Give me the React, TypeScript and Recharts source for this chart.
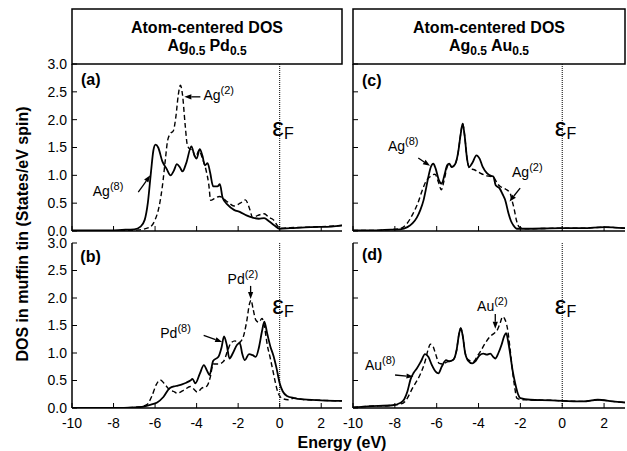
import React from 'react';
import { LineChart, Line, XAxis, YAxis, ReferenceLine, ReferenceDot } from 'recharts';

type Pt = [number, number];

// (a) Ag0.5Pd0.5, Ag site DOS: solid = Ag(8), dashed = Ag(2)
const agPdAg8: Pt[] = [
  [-10, 0.01], [-8.5, 0.01], [-7.6, 0.02], [-7.0, 0.03], [-6.7, 0.08], [-6.5, 0.2], [-6.35, 0.5],
  [-6.2, 1.05], [-6.08, 1.45], [-5.98, 1.55], [-5.85, 1.5], [-5.65, 1.25], [-5.45, 1.12], [-5.25, 1.0],
  [-5.1, 1.08], [-4.95, 1.2], [-4.8, 1.14], [-4.68, 1.07], [-4.5, 1.22], [-4.25, 1.52], [-4.1, 1.35],
  [-4.0, 1.3], [-3.85, 1.47], [-3.72, 1.35], [-3.6, 1.18], [-3.47, 1.22], [-3.35, 1.05], [-3.2, 0.8],
  [-3.0, 0.8], [-2.88, 0.84], [-2.75, 0.6], [-2.5, 0.47], [-2.2, 0.38], [-1.9, 0.34], [-1.6, 0.28],
  [-1.3, 0.24], [-1.0, 0.22], [-0.75, 0.23], [-0.5, 0.17], [-0.25, 0.1], [0, 0.04], [0.5, 0.05],
  [1.5, 0.07], [2.5, 0.08], [3, 0.1],
];
const agPdAg2: Pt[] = [
  [-10, 0], [-8, 0], [-6.8, 0.02], [-6.3, 0.06], [-6.0, 0.2], [-5.8, 0.45], [-5.65, 0.8], [-5.5, 1.3],
  [-5.4, 1.62], [-5.28, 1.74], [-5.12, 1.8], [-5.0, 2.05], [-4.88, 2.45], [-4.78, 2.62], [-4.68, 2.45],
  [-4.55, 1.9], [-4.45, 1.55], [-4.35, 1.48], [-4.2, 1.45], [-4.05, 1.33], [-3.88, 1.45], [-3.72, 1.3],
  [-3.55, 1.1], [-3.42, 0.85], [-3.32, 0.55], [-3.15, 0.58], [-2.9, 0.62], [-2.5, 0.52], [-2.2, 0.45],
  [-1.9, 0.5], [-1.65, 0.56], [-1.45, 0.4], [-1.3, 0.24], [-1.05, 0.28], [-0.75, 0.31], [-0.5, 0.24],
  [-0.3, 0.2], [-0.12, 0.1], [0, 0.05], [0.5, 0.06], [1.5, 0.07], [3, 0.1],
];

// (b) Ag0.5Pd0.5, Pd site DOS
const agPdPd8: Pt[] = [
  [-10, 0], [-8, 0], [-7.0, 0.01], [-6.5, 0.03], [-6.2, 0.06], [-5.9, 0.1], [-5.6, 0.2], [-5.3, 0.36],
  [-5.0, 0.4], [-4.7, 0.43], [-4.5, 0.46], [-4.3, 0.5], [-4.2, 0.53], [-4.06, 0.45], [-3.85, 0.62],
  [-3.65, 0.78], [-3.5, 0.68], [-3.38, 0.6], [-3.2, 0.86], [-2.95, 0.93], [-2.8, 1.1], [-2.68, 1.3],
  [-2.55, 1.15], [-2.42, 0.9], [-2.25, 1.0], [-2.05, 1.15], [-1.92, 1.18], [-1.8, 0.98], [-1.68, 0.87],
  [-1.48, 0.98], [-1.3, 0.96], [-1.15, 0.93], [-1.0, 1.1], [-0.85, 1.4], [-0.74, 1.57], [-0.6, 1.35],
  [-0.45, 1.12], [-0.3, 0.95], [-0.15, 0.72], [0, 0.45], [0.15, 0.3], [0.35, 0.22], [0.7, 0.18],
  [1.0, 0.16], [2, 0.14], [3, 0.13],
];
const agPdPd2: Pt[] = [
  [-10, 0], [-8, 0], [-6.8, 0.02], [-6.4, 0.06], [-6.15, 0.22], [-5.95, 0.42], [-5.75, 0.51],
  [-5.55, 0.44], [-5.35, 0.35], [-5.1, 0.3], [-4.94, 0.27], [-4.6, 0.33], [-4.3, 0.39], [-4.1, 0.33],
  [-3.97, 0.29], [-3.75, 0.36], [-3.5, 0.4], [-3.35, 0.55], [-3.2, 0.8], [-2.95, 0.8], [-2.7, 0.85],
  [-2.5, 1.05], [-2.35, 1.18], [-2.15, 1.22], [-2.0, 1.18], [-1.8, 1.25], [-1.6, 1.55], [-1.45, 1.9],
  [-1.38, 1.96], [-1.28, 1.8], [-1.15, 1.6], [-1.0, 1.56], [-0.85, 1.63], [-0.72, 1.45], [-0.6, 1.15],
  [-0.45, 0.9], [-0.35, 0.72], [-0.2, 0.45], [-0.1, 0.3], [0.1, 0.18], [0.4, 0.15], [0.7, 0.18],
  [1.2, 0.15], [2, 0.14], [3, 0.13],
];

// (c) Ag0.5Au0.5, Ag site DOS
const agAuAg8: Pt[] = [
  [-10, 0.01], [-9, 0.01], [-8.5, 0.02], [-7.75, 0.03], [-7.4, 0.07], [-7.15, 0.14], [-6.95, 0.24],
  [-6.78, 0.38], [-6.63, 0.55], [-6.5, 0.78], [-6.4, 0.97], [-6.28, 1.15], [-6.16, 1.21], [-6.05, 1.12],
  [-5.9, 0.92], [-5.76, 0.85], [-5.62, 1.02], [-5.5, 1.18], [-5.4, 1.21], [-5.28, 1.15], [-5.12, 1.2],
  [-4.98, 1.4], [-4.85, 1.75], [-4.76, 1.93], [-4.66, 1.7], [-4.55, 1.3], [-4.45, 1.15], [-4.3, 1.22],
  [-4.1, 1.36], [-3.95, 1.3], [-3.8, 1.15], [-3.6, 1.04], [-3.4, 0.99], [-3.29, 0.98], [-3.18, 0.82],
  [-3.0, 0.77], [-2.85, 0.66], [-2.73, 0.56], [-2.57, 0.32], [-2.45, 0.18], [-2.33, 0.1], [-2.17, 0.04],
  [-1.8, 0.04], [0, 0.05], [1, 0.05], [2, 0.07], [3, 0.05],
];
const agAuAg2: Pt[] = [
  [-10, 0.01], [-9, 0.01], [-8.5, 0.02], [-7.8, 0.04], [-7.45, 0.12], [-7.15, 0.3], [-6.9, 0.5],
  [-6.7, 0.72], [-6.5, 0.9], [-6.3, 0.98], [-6.08, 1.02], [-5.92, 0.88], [-5.78, 0.74], [-5.65, 0.9],
  [-5.5, 1.15], [-5.4, 1.2], [-5.28, 1.15], [-5.12, 1.2], [-4.98, 1.4], [-4.85, 1.75], [-4.76, 1.93],
  [-4.66, 1.7], [-4.55, 1.3], [-4.42, 1.12], [-4.2, 1.1], [-3.92, 1.04], [-3.6, 0.99], [-3.29, 0.97],
  [-3.1, 0.85], [-2.96, 0.8], [-2.7, 0.75], [-2.49, 0.68], [-2.4, 0.55], [-2.3, 0.4], [-2.18, 0.18],
  [-2.05, 0.07], [-1.8, 0.04], [0, 0.05], [1, 0.05], [2, 0.07], [3, 0.05],
];

// (d) Ag0.5Au0.5, Au site DOS
const agAuAu8: Pt[] = [
  [-10, 0.01], [-9.3, 0.03], [-8.1, 0.05], [-7.75, 0.09], [-7.55, 0.16], [-7.4, 0.3], [-7.25, 0.52],
  [-7.1, 0.64], [-6.95, 0.72], [-6.75, 0.85], [-6.56, 0.98], [-6.4, 0.93], [-6.23, 0.78], [-6.05, 0.66],
  [-5.92, 0.63], [-5.75, 0.76], [-5.55, 0.87], [-5.4, 0.85], [-5.2, 0.88], [-5.05, 1.05], [-4.93, 1.35],
  [-4.85, 1.45], [-4.75, 1.3], [-4.65, 1.02], [-4.5, 0.86], [-4.3, 0.81], [-4.15, 0.85], [-3.95, 0.96],
  [-3.77, 0.99], [-3.6, 0.97], [-3.44, 0.99], [-3.3, 0.93], [-3.2, 0.9], [-3.05, 1.0], [-2.9, 1.15],
  [-2.78, 1.3], [-2.68, 1.36], [-2.58, 1.2], [-2.49, 0.99], [-2.38, 0.7], [-2.25, 0.45], [-2.12, 0.26],
  [-2.0, 0.18], [-1.53, 0.15], [-0.5, 0.14], [0, 0.13], [1.0, 0.12], [1.7, 0.15], [2.4, 0.12], [3, 0.1],
];
const agAuAu2: Pt[] = [
  [-10, 0.01], [-9.3, 0.03], [-8.1, 0.05], [-7.6, 0.09], [-7.4, 0.18], [-7.2, 0.33], [-7.0, 0.46],
  [-6.8, 0.6], [-6.56, 0.84], [-6.42, 1.05], [-6.3, 1.16], [-6.2, 1.14], [-6.05, 0.98], [-5.88, 0.81],
  [-5.7, 0.8], [-5.5, 0.84], [-5.35, 0.85], [-5.2, 0.88], [-5.05, 1.05], [-4.93, 1.35], [-4.85, 1.45],
  [-4.75, 1.3], [-4.65, 1.02], [-4.5, 0.88], [-4.25, 0.84], [-4.05, 0.95], [-3.92, 1.02], [-3.68, 1.18],
  [-3.45, 1.3], [-3.25, 1.36], [-3.1, 1.42], [-2.97, 1.54], [-2.85, 1.66], [-2.75, 1.62], [-2.62, 1.45],
  [-2.5, 1.1], [-2.4, 0.75], [-2.28, 0.4], [-2.17, 0.18], [-1.93, 0.15], [-0.5, 0.14], [0, 0.13],
  [1.0, 0.12], [1.7, 0.15], [2.4, 0.12], [3, 0.1],
];

const xMajor = [-10, -8, -6, -4, -2, 0, 2];
const yMajor = [0, 0.5, 1, 1.5, 2, 2.5, 3];

const FONT = '"Liberation Sans", Arial, Helvetica, sans-serif';

interface Note {
  text: string;
  sup: string;
  at: Pt;
  from: Pt;
  to: Pt;
}

interface PanelCfg {
  tag: string;
  tagAt: Pt;
  left: number;
  top: number;
  w: number;
  h: number;
  solid: Pt[];
  dashed: Pt[];
  notes: Note[];
  showX: boolean;
  showY: boolean;
}

const panels: PanelCfg[] = [
  {
    tag: '(a)', tagAt: [-9.57, 2.62], left: 72, top: 64, w: 270, h: 167,
    solid: agPdAg8, dashed: agPdAg2, showX: false, showY: true,
    notes: [
      { text: 'Ag', sup: '(8)', at: [-9.0, 0.63], from: [-6.81, 0.7], to: [-6.23, 1.0] },
      { text: 'Ag', sup: '(2)', at: [-3.67, 2.36], from: [-3.82, 2.41], to: [-4.59, 2.41] },
    ],
  },
  {
    tag: '(b)', tagAt: [-9.6, 2.66], left: 72, top: 243, w: 270, h: 165,
    solid: agPdPd8, dashed: agPdPd2, showX: true, showY: true,
    notes: [
      { text: 'Pd', sup: '(2)', at: [-2.51, 2.26], from: [-1.4, 2.22], to: [-1.4, 1.98] },
      { text: 'Pd', sup: '(8)', at: [-5.75, 1.27], from: [-3.66, 1.32], to: [-2.77, 1.2] },
    ],
  },
  {
    tag: '(c)', tagAt: [-9.57, 2.6], left: 353, top: 64, w: 272, h: 167,
    solid: agAuAg8, dashed: agAuAg2, showX: false, showY: false,
    notes: [
      { text: 'Ag', sup: '(8)', at: [-8.33, 1.44], from: [-6.88, 1.31], to: [-6.32, 1.17] },
      { text: 'Ag', sup: '(2)', at: [-2.4, 0.97], from: [-2.01, 0.77], to: [-2.52, 0.53] },
    ],
  },
  {
    tag: '(d)', tagAt: [-9.57, 2.69], left: 353, top: 243, w: 272, h: 165,
    solid: agAuAu8, dashed: agAuAu2, showX: true, showY: false,
    notes: [
      { text: 'Au', sup: '(2)', at: [-4.07, 1.77], from: [-3.2, 1.71], to: [-3.2, 1.44] },
      { text: 'Au', sup: '(8)', at: [-9.43, 0.69], from: [-7.99, 0.6], to: [-7.11, 0.57] },
    ],
  },
];

const tickStyle = { fill: '#000', fontSize: 14, fontFamily: FONT };
const frame = { stroke: '#000', strokeWidth: 1.5 };
const tl = { stroke: '#000', strokeWidth: 1 };
const noLabel = () => <g />;
const PAD = 9;

function Arrow(p: any) {
  const { x1, y1, x2, y2 } = p;
  const ang = Math.atan2(y2 - y1, x2 - x1);
  const len = 7;
  const hw = 2.6;
  const bx = x2 - len * Math.cos(ang);
  const by = y2 - len * Math.sin(ang);
  const nx = -Math.sin(ang) * hw;
  const ny = Math.cos(ang) * hw;
  return (
    <g>
      <line x1={x1} y1={y1} x2={bx} y2={by} stroke="#000" strokeWidth={1.3} />
      <polygon points={`${x2},${y2} ${bx + nx},${by + ny} ${bx - nx},${by - ny}`} fill="#000" />
    </g>
  );
}

const toData = (pts: Pt[]) => pts.map(([e, v]) => ({ e, v }));

function Panel({ cfg }: { cfg: PanelCfg }) {
  const xh = cfg.showX ? 32 : PAD;
  const ids = { xAxisId: 'b', yAxisId: 'l' };
  return (
    <div style={{ position: 'absolute', left: cfg.left - 45, top: cfg.top - PAD }}>
      <LineChart width={cfg.w + 47} height={cfg.h + PAD + xh} margin={{ top: PAD, right: 2, bottom: 0, left: 0 }}>
        {/* labelled frame axes, major ticks pointing inward */}
        <XAxis xAxisId="b" type="number" dataKey="e" domain={[-10, 3]} allowDataOverflow ticks={xMajor} interval={0}
          height={xh} tickLine={tl} tickSize={-5} tickMargin={15} axisLine={frame}
          tick={cfg.showX ? tickStyle : noLabel} />
        <YAxis yAxisId="l" type="number" domain={[0, 3]} allowDataOverflow ticks={yMajor} interval={0} width={45}
          tickLine={tl} tickSize={-5} tickMargin={10} axisLine={frame}
          tick={cfg.showY ? tickStyle : noLabel} tickFormatter={(v: number) => v.toFixed(1)} />
        {/* top and right frame lines */}
        <XAxis xAxisId="t" type="number" mirror orientation="top" domain={[-10, 3]} allowDataOverflow
          height={0} tick={false} tickLine={false} axisLine={frame} />
        <YAxis yAxisId="r" type="number" mirror orientation="right" domain={[0, 3]} allowDataOverflow
          width={0} tick={false} tickLine={false} axisLine={frame} />

        <ReferenceLine {...ids} x={0} stroke="#000" strokeWidth={1} strokeDasharray="1 1" />

        <Line {...ids} data={toData(cfg.dashed)} dataKey="v" type="monotone" stroke="#000"
          strokeWidth={1.4} strokeDasharray="5 3" dot={false} isAnimationActive={false} />
        <Line {...ids} data={toData(cfg.solid)} dataKey="v" type="monotone" stroke="#000"
          strokeWidth={1.8} dot={false} isAnimationActive={false} />

        <ReferenceDot {...ids} x={cfg.tagAt[0]} y={cfg.tagAt[1]} r={0}
          shape={(p: any) => (
            <text x={p.cx} y={p.cy} fontSize={16} fontWeight="bold" fontFamily={FONT} fill="#000">{cfg.tag}</text>
          )} />
        <ReferenceDot {...ids} x={-0.08} y={1.71} r={0}
          shape={(p: any) => (
            <g fontFamily={FONT} fill="#000">
              <text x={p.cx} y={p.cy} fontSize={26} textAnchor="middle">ε</text>
              <text x={p.cx + 6} y={p.cy + 3} fontSize={16}>F</text>
            </g>
          )} />
        {cfg.notes.map((n, i) => (
          <ReferenceDot key={'t' + i} {...ids} x={n.at[0]} y={n.at[1]} r={0}
            shape={(p: any) => (
              <text x={p.cx} y={p.cy} fontSize={14} fontFamily={FONT} fill="#000">
                {n.text}
                <tspan fontSize={11} dy={-6}>{n.sup}</tspan>
              </text>
            )} />
        ))}
        {cfg.notes.map((n, i) => (
          <ReferenceLine key={'a' + i} {...ids}
            segment={[{ x: n.from[0], y: n.from[1] }, { x: n.to[0], y: n.to[1] }]}
            shape={(p: any) => <Arrow {...p} />} />
        ))}
      </LineChart>
    </div>
  );
}

function TitleBox({ x, w, alloy }: { x: number; w: number; alloy: string }) {
  const cx = x + w / 2;
  return (
    <g fontFamily={FONT} fontWeight="bold" fill="#000">
      <rect x={x} y={9} width={w} height={55} fill="none" stroke="#000" strokeWidth={1.5} />
      <text x={cx} y={33} textAnchor="middle" fontSize={16}>Atom-centered DOS</text>
      <text x={cx} y={51} textAnchor="middle" fontSize={16}>
        Ag<tspan fontSize={12} dy={4}>0.5</tspan>
        <tspan dy={-4} dx={4}>{alloy}</tspan>
        <tspan fontSize={12} dy={4}>0.5</tspan>
      </text>
    </g>
  );
}

export default function App() {
  return (
    <div style={{ position: 'absolute', left: 0, top: 0, width: 627, height: 451, background: '#fff' }}>
      <svg width={627} height={451} style={{ position: 'absolute', left: 0, top: 0 }}>
        <TitleBox x={72} w={270} alloy="Pd" />
        <TitleBox x={353} w={272} alloy="Au" />
        <text transform="translate(22,234) rotate(-90)" textAnchor="middle" dominantBaseline="central"
          fontFamily={FONT} fontWeight="bold" fontSize={16} fill="#000">
          DOS in muffin tin (States/eV spin)
        </text>
        <text x={342} y={448} textAnchor="middle" fontFamily={FONT} fontWeight="bold" fontSize={16} fill="#000">
          Energy (eV)
        </text>
      </svg>
      {panels.map((cfg) => (
        <Panel key={cfg.tag} cfg={cfg} />
      ))}
    </div>
  );
}
